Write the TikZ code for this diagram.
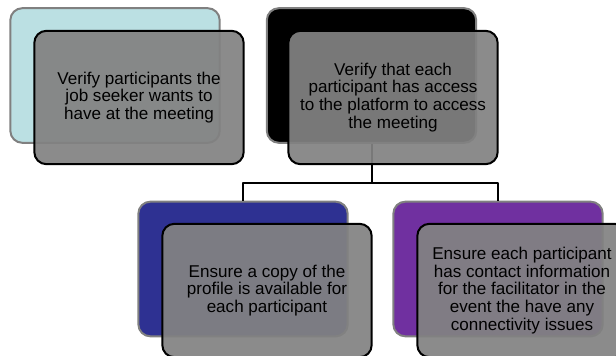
\documentclass[tikz,border=0pt]{standalone}
\usepackage{fontspec}
\setmainfont{Liberation Sans}
\definecolor{paleteal}{RGB}{187,224,227}
\definecolor{deepblue}{RGB}{46,49,146}
\definecolor{violet}{RGB}{112,48,160}
\definecolor{slate}{RGB}{130,130,130}
\tikzset{
  backcard/.style={draw=gray, line width=1.5pt, rounded corners=9pt,
    minimum width=157pt, minimum height=101pt, inner sep=0pt},
  frontcard/.style={draw=black, line width=1.5pt, rounded corners=9pt,
    fill=slate, fill opacity=0.93, text opacity=1,
    minimum width=157pt, minimum height=100pt, inner sep=0pt,
    align=center, font=\fontsize{12.8}{13.4}\selectfont},
  link/.style={draw=black, line width=1.5pt}
}
\begin{document}
\begin{tikzpicture}[x=0.75pt, y=-0.75pt, line join=round]
  \useasboundingbox (0,0) rectangle (616,356);
  \node[backcard, fill=paleteal] (seeker) at (115,75.5) {};
  \node[backcard, fill=black] (access) at (371.5,75.5) {};
  \node[backcard, fill=deepblue] (copy) at (243,269) {};
  \node[backcard, fill=violet] (contact) at (498,269) {};
  \coordinate (split) at (371.5,183);
  \draw[link] (access.south) -- (split) -| (copy.north);
  \draw[link] (split) -| (contact.north);
  \node[frontcard] (seekertext) at (139,97.5)
    {Verify participants the\\job seeker wants to\\have at the meeting};
  \node[frontcard] (accesstext) at (393,97.5)
    {Verify that each\\participant has access\\to the platform to access\\the meeting};
  \node[frontcard] (copytext) at (267,290.5)
    {Ensure a copy of the\\profile is available for\\each participant};
  \node[frontcard] (contacttext) at (522,290.5)
    {Ensure each participant\\has contact information\\for the facilitator in the\\event the have any\\connectivity issues};
\end{tikzpicture}
\end{document}
